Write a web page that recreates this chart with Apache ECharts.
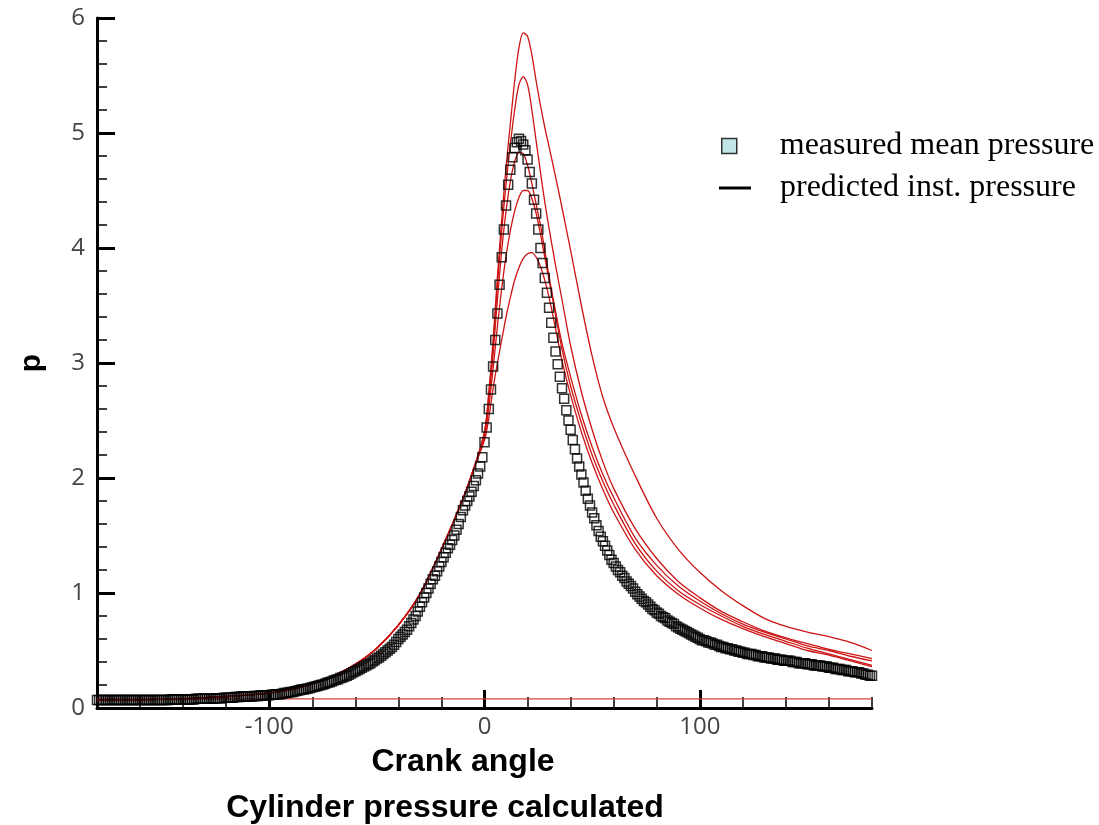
<!DOCTYPE html>
<html>
<head>
<meta charset="utf-8">
<script src="https://cdn.jsdelivr.net/npm/echarts@6/dist/echarts.min.js"></script>
<style>
  html, body { margin: 0; padding: 0; background: #fff; }
  #chartPressure { width: 1099px; height: 825px; }
</style>
</head>
<body>
<div id="chartPressure"></div>
<script>
// 测量平均压力：-180 到 180 度，每 1 度一个点
var measuredStart = -180;
var measuredValues = [
  0.07,0.07,0.07,0.07,0.07,0.07,0.07,0.07,0.07,0.07,
  0.07,0.07,0.07,0.07,0.07,0.07,0.07,0.07,0.07,0.07,
  0.07,0.07,0.07,0.07,0.07,0.07,0.07,0.07,0.07,0.07,
  0.07,0.07,0.07,0.07,0.075,0.075,0.075,0.075,0.075,0.075,
  0.075,0.075,0.075,0.075,0.075,0.075,0.08,0.08,0.08,0.08,
  0.08,0.08,0.08,0.08,0.08,0.085,0.085,0.085,0.085,0.09,
  0.09,0.09,0.09,0.09,0.095,0.095,0.095,0.1,0.1,0.1,
  0.1,0.1,0.1,0.105,0.105,0.105,0.11,0.11,0.11,0.11,
  0.11,0.115,0.115,0.12,0.12,0.12,0.125,0.13,0.13,0.135,
  0.14,0.14,0.145,0.15,0.155,0.16,0.16,0.165,0.17,0.175,
  0.18,0.185,0.19,0.195,0.2,0.205,0.21,0.22,0.225,0.23,
  0.24,0.245,0.25,0.26,0.265,0.275,0.28,0.29,0.3,0.31,
  0.32,0.33,0.34,0.35,0.36,0.37,0.38,0.39,0.405,0.415,
  0.43,0.44,0.455,0.47,0.485,0.5,0.515,0.53,0.55,0.575,
  0.6,0.62,0.64,0.66,0.68,0.71,0.74,0.77,0.8,0.84,
  0.88,0.92,0.96,1.0,1.04,1.08,1.12,1.15,1.19,1.23,
  1.27,1.31,1.35,1.39,1.42,1.46,1.5,1.55,1.6,1.66,
  1.72,1.76,1.8,1.84,1.88,1.93,1.98,2.04,2.1,2.18,
  2.31,2.44,2.6,2.77,2.97,3.2,3.43,3.68,3.92,4.16,
  4.37,4.55,4.68,4.79,4.87,4.92,4.95,4.93,4.9,4.85,
  4.77,4.66,4.56,4.42,4.3,4.16,4.0,3.87,3.74,3.61,
  3.48,3.35,3.22,3.1,2.99,2.88,2.78,2.69,2.59,2.5,
  2.42,2.33,2.25,2.17,2.1,2.03,1.96,1.89,1.82,1.76,
  1.7,1.65,1.59,1.54,1.49,1.45,1.41,1.37,1.33,1.29,
  1.26,1.23,1.2,1.18,1.15,1.13,1.1,1.08,1.06,1.04,
  1.01,0.99,0.97,0.95,0.93,0.92,0.9,0.88,0.86,0.85,
  0.83,0.82,0.8,0.79,0.78,0.76,0.75,0.74,0.73,0.71,
  0.7,0.69,0.68,0.67,0.66,0.65,0.64,0.63,0.62,0.61,
  0.6,0.59,0.59,0.58,0.57,0.57,0.56,0.55,0.55,0.54,
  0.53,0.53,0.52,0.52,0.51,0.51,0.5,0.5,0.49,0.49,
  0.48,0.48,0.47,0.47,0.47,0.46,0.46,0.45,0.45,0.45,
  0.44,0.44,0.44,0.43,0.43,0.43,0.42,0.42,0.42,0.41,
  0.41,0.41,0.41,0.4,0.4,0.4,0.39,0.39,0.39,0.39,
  0.38,0.38,0.38,0.37,0.37,0.37,0.37,0.36,0.36,0.36,
  0.35,0.35,0.35,0.34,0.34,0.34,0.33,0.33,0.33,0.32,
  0.32,0.32,0.31,0.31,0.31,0.3,0.3,0.29,0.29,0.28,0.28
];

// 预测瞬时压力：5 条曲线共用的横坐标
var predAngles = [-180,-140,-120,-100,-90,-80,-70,-60,-50,-40,-30,-20,-10,-5,
  0,2,4,6,8,10,12,14,16,18,20,22,24,26,28,30,33,36,40,45,50,55,60,
  70,80,90,100,110,120,130,140,150,160,170,180];
// 压缩段（-180 到 -5 度）几条曲线重合
var predRise = [0.07,0.08,0.1,0.13,0.16,0.21,0.28,0.38,0.52,0.72,0.99,1.38,1.82,2.08];
var predA = [2.4,2.75,3.2,3.75,4.25,4.7,5.08,5.45,5.74,5.87,5.84,5.68,5.45,5.24,5.05,4.88,4.62,4.35,3.98,3.5,3.06,2.7,2.44,
  2.02,1.65,1.38,1.18,1.02,0.89,0.78,0.71,0.66,0.62,0.57,0.5];
var predB = [2.4,2.72,3.15,3.68,4.15,4.55,4.9,5.2,5.42,5.49,5.42,5.2,4.93,4.66,4.4,4.17,3.85,3.55,3.15,2.75,2.42,2.14,1.91,
  1.56,1.3,1.1,0.96,0.84,0.75,0.67,0.61,0.56,0.51,0.47,0.43];
var predC = [2.38,2.68,3.08,3.55,3.98,4.32,4.58,4.75,4.83,4.82,4.72,4.56,4.38,4.2,3.98,3.75,3.45,3.17,2.88,2.55,2.27,2.03,1.83,
  1.48,1.24,1.06,0.93,0.82,0.73,0.66,0.6,0.54,0.5,0.45,0.41];
var predD = [2.36,2.62,2.95,3.32,3.65,3.93,4.15,4.32,4.44,4.5,4.5,4.43,4.3,4.12,3.92,3.72,3.42,3.12,2.8,2.48,2.2,1.97,1.77,
  1.43,1.19,1.02,0.9,0.8,0.71,0.64,0.58,0.52,0.47,0.42,0.37];
var predE = [2.33,2.52,2.78,3.0,3.2,3.4,3.57,3.72,3.83,3.91,3.95,3.96,3.92,3.84,3.72,3.57,3.3,3.02,2.72,2.4,2.13,1.9,1.7,
  1.38,1.15,0.99,0.87,0.77,0.69,0.62,0.56,0.5,0.46,0.41,0.36];
// 底部的水平红线
var baseAngles = [-180, 180];
var baseValues = [0.08, 0.08];

var xMajorTicks = [-100, 0, 100];

function pairs(xs, ys) {
  var out = [];
  for (var i = 0; i < ys.length; i++) {
    out.push([xs[i], ys[i]]);
  }
  return out;
}

var measuredAngles = [];
for (var i = 0; i < measuredValues.length; i++) {
  measuredAngles.push(measuredStart + i);
}

var RED = '#cc1414';
var predNames = 'predicted inst. pressure';

function predSeries(vals) {
  return {
    name: predNames,
    type: 'line',
    data: pairs(predAngles, predRise.concat(vals)),
    showSymbol: false,
    smooth: 0.3,
    lineStyle: { color: RED, width: 1.3 },
    itemStyle: { color: RED },
    z: 2
  };
}

var myChart = echarts.init(document.getElementById('chartPressure'));

var option = {
  animation: false,
  backgroundColor: '#fff',
  grid: {
    left: 97,
    right: 227,
    top: 18,
    bottom: 117
  },
  legend: [{
    orient: 'vertical',
    left: 721,
    top: 130,
    padding: 0,
    itemWidth: 15,
    itemHeight: 15,
    data: [{
      name: 'measured mean pressure',
      icon: 'rect',
      itemStyle: { color: '#b4e0e4', borderColor: '#000', borderWidth: 1.5 }
    }],
    textStyle: {
      fontFamily: '"Liberation Serif", "Times New Roman", serif',
      fontSize: 32,
      color: '#000',
      padding: [0, 0, 0, 38]
    }
  }, {
    orient: 'vertical',
    left: 719,
    top: 172,
    padding: 0,
    itemWidth: 32,
    itemHeight: 3,
    data: [{
      name: predNames,
      icon: 'rect',
      itemStyle: { color: '#000' }
    }],
    textStyle: {
      fontFamily: '"Liberation Serif", "Times New Roman", serif',
      fontSize: 32,
      color: '#000',
      padding: [0, 0, 0, 24]
    }
  }],
  xAxis: [{
    type: 'value',
    min: -180,
    max: 180,
    interval: 20,
    axisLine: { onZero: false, lineStyle: { color: '#000', width: 3 } },
    axisTick: { inside: true, length: 11, lineStyle: { color: '#000', width: 1.5 } },
    axisLabel: { show: false },
    splitLine: { show: false }
  }, {
    type: 'value',
    min: -180,
    max: 180,
    position: 'bottom',
    axisLine: { show: false, onZero: false },
    axisTick: { inside: true, length: 18, customValues: xMajorTicks, lineStyle: { color: '#000', width: 3 } },
    axisLabel: {
      customValues: xMajorTicks,
      fontFamily: '"Open Sans", "DejaVu Sans", sans-serif',
      fontSize: 24,
      color: '#444',
      margin: 7
    },
    splitLine: { show: false }
  }],
  yAxis: {
    type: 'value',
    min: 0,
    max: 6,
    interval: 1,
    name: 'p',
    nameLocation: 'middle',
    nameRotate: 90,
    nameGap: 50,
    nameTextStyle: {
      fontFamily: '"Liberation Sans", Arial, sans-serif',
      fontWeight: 'bold',
      fontSize: 30,
      color: '#000'
    },
    axisLine: { show: true, onZero: false, lineStyle: { color: '#000', width: 3 } },
    axisTick: { inside: true, length: 18, lineStyle: { color: '#000', width: 3 } },
    minorTick: { show: true, splitNumber: 5, length: 10, lineStyle: { color: '#000', width: 1.5 } },
    axisLabel: {
      fontFamily: '"Open Sans", "DejaVu Sans", sans-serif',
      fontSize: 24,
      color: '#444',
      margin: 12
    },
    splitLine: { show: false },
    minorSplitLine: { show: false }
  },
  graphic: [{
    type: 'text',
    x: 463,
    y: 762,
    style: {
      text: 'Crank angle',
      font: 'bold 32px "Liberation Sans", Arial, sans-serif',
      fill: '#000',
      align: 'center',
      verticalAlign: 'middle'
    }
  }, {
    type: 'text',
    x: 445,
    y: 808,
    style: {
      text: 'Cylinder pressure calculated',
      font: 'bold 32px "Liberation Sans", Arial, sans-serif',
      fill: '#000',
      align: 'center',
      verticalAlign: 'middle'
    }
  }],
  series: [
    {
      name: 'base',
      type: 'line',
      data: pairs(baseAngles, baseValues),
      showSymbol: false,
      lineStyle: { color: '#d04040', width: 1.2 },
      z: 1
    },
    predSeries(predA),
    predSeries(predB),
    predSeries(predC),
    predSeries(predD),
    predSeries(predE),
    {
      name: 'measured mean pressure',
      type: 'scatter',
      data: pairs(measuredAngles, measuredValues),
      symbol: 'rect',
      symbolSize: 9,
      itemStyle: { color: 'rgba(255,255,255,0)', borderColor: '#000', borderWidth: 1.5 },
      z: 3
    }
  ]
};

myChart.setOption(option);
</script>
</body>
</html>
